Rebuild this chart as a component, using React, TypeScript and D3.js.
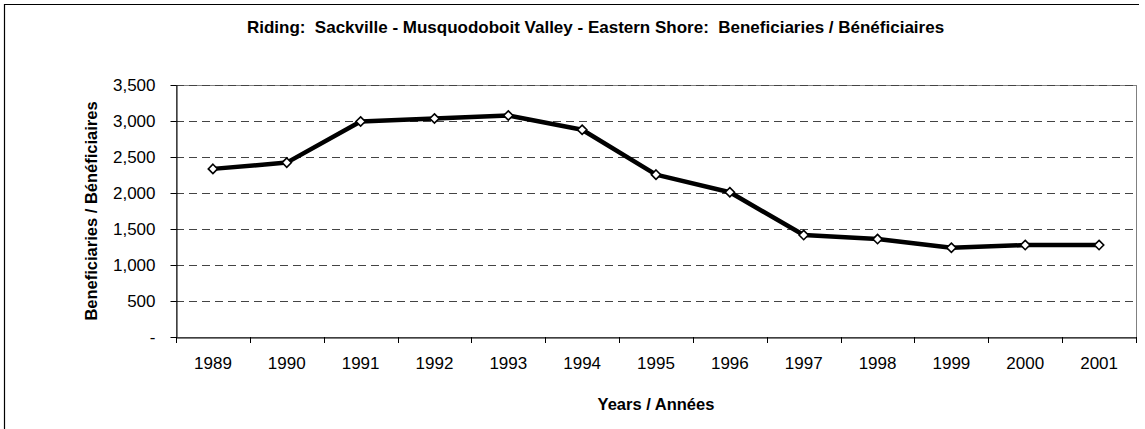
import React, { useEffect, useRef } from "react";
import * as d3 from "d3";

const years = ["1989", "1990", "1991", "1992", "1993", "1994", "1995", "1996", "1997", "1998", "1999", "2000", "2001"];
const beneficiaries = [2335, 2422, 2993, 3035, 3077, 2878, 2255, 2010, 1416, 1360, 1239, 1277, 1277];
const yTicks = [0, 500, 1000, 1500, 2000, 2500, 3000, 3500];

const title = "Riding:  Sackville - Musquodoboit Valley - Eastern Shore:  Beneficiaries / Bénéficiaires";
const xTitle = "Years / Années";
const yTitle = "Beneficiaries / Bénéficiaires";

const W = 1145, H = 429;
const left = 176, right = 1136, top = 85, bottom = 337;
const narrow = "'Liberation Sans Narrow', 'Arial Narrow', 'Liberation Sans', Arial, sans-serif";
const regular = "'Liberation Sans', Arial, sans-serif";

export default function App() {
  const ref = useRef<SVGSVGElement>(null);

  useEffect(() => {
    const svg = d3.select(ref.current);
    svg.selectAll("*").remove();

    // outer frame (only top and left edges are inside the picture)
    svg.append("path")
      .attr("d", `M4.5,${H + 5} V4.5 H1139`)
      .attr("fill", "none")
      .attr("stroke", "#000")
      .attr("stroke-width", 1.2);

    const x = d3.scaleBand().domain(years).range([left, right]);
    const y = d3.scaleLinear().domain([0, 3500]).range([bottom, top]);

    // plot frame
    svg.append("rect")
      .attr("x", left + 0.5).attr("y", top + 0.5)
      .attr("width", right - left).attr("height", bottom - top)
      .attr("fill", "none").attr("stroke", "#808080");

    // gridlines
    svg.append("g").selectAll("line")
      .data(yTicks.filter(d => d > 0))
      .join("line")
      .attr("x1", left).attr("x2", right)
      .attr("y1", d => Math.round(y(d)) + 0.5)
      .attr("y2", d => Math.round(y(d)) + 0.5)
      .attr("stroke", "#444")
      .attr("stroke-dasharray", "8,5");

    // y axis
    const yAxis = svg.append("g")
      .attr("transform", `translate(${left + 0.5},0)`)
      .call(d3.axisLeft(y).tickValues(yTicks).tickSize(6).tickSizeOuter(0)
        .tickFormat(d => (+d === 0 ? "-" : d3.format(",")(+d))));
    yAxis.select(".domain").attr("stroke", "#000");
    yAxis.selectAll(".tick text")
      .attr("x", -21)
      .style("font-family", regular)
      .style("font-size", "17px")
      .attr("fill", "#000");
    yAxis.selectAll(".tick line").attr("stroke", "#000");
    yAxis.selectAll(".tick").attr("transform", d => `translate(0,${Math.round(y(d as number)) + 0.5})`);

    // x axis
    const xAxis = svg.append("g")
      .attr("transform", `translate(0,${bottom + 0.5})`)
      .call(d3.axisBottom(x).tickSize(0).tickSizeOuter(0));
    xAxis.select(".domain").attr("stroke", "#000");
    xAxis.selectAll(".tick text")
      .attr("y", 19)
      .style("font-family", regular)
      .style("font-size", "17px")
      .attr("fill", "#000");

    // category boundary ticks
    svg.append("g").selectAll("line")
      .data(years.concat(["end"]))
      .join("line")
      .attr("x1", (d, i) => Math.round(left + i * x.step()) + 0.5)
      .attr("x2", (d, i) => Math.round(left + i * x.step()) + 0.5)
      .attr("y1", bottom)
      .attr("y2", bottom + 6)
      .attr("stroke", "#000");

    // line
    const cx = (d: string) => (x(d) as number) + x.bandwidth() / 2;
    const line = d3.line<number>()
      .x((d, i) => cx(years[i]))
      .y(d => y(d));
    svg.append("path")
      .datum(beneficiaries)
      .attr("d", line)
      .attr("fill", "none")
      .attr("stroke", "#000")
      .attr("stroke-width", 4.5)
      .attr("stroke-linejoin", "round");

    // diamond markers
    const diamond = d3.symbol().type(d3.symbolDiamond2).size(55);
    svg.append("g").selectAll("path")
      .data(beneficiaries)
      .join("path")
      .attr("d", diamond)
      .attr("transform", (d, i) => `translate(${cx(years[i])},${y(d)})`)
      .attr("fill", "#fff")
      .attr("stroke", "#000")
      .attr("stroke-width", 1.6);

    // titles
    svg.append("text")
      .attr("x", 595.5)
      .attr("y", 33)
      .attr("text-anchor", "middle")
      .style("white-space", "pre")
      .style("font-family", narrow)
      .style("font-weight", "bold")
      .style("font-size", "17px")
      .text(title);

    svg.append("text")
      .attr("x", (left + right) / 2)
      .attr("y", 410)
      .attr("text-anchor", "middle")
      .style("font-family", narrow)
      .style("font-weight", "bold")
      .style("font-size", "16.5px")
      .text(xTitle);

    svg.append("text")
      .attr("transform", `translate(97,${(top + bottom) / 2}) rotate(-90)`)
      .attr("text-anchor", "middle")
      .style("font-family", narrow)
      .style("font-weight", "bold")
      .style("font-size", "16.5px")
      .text(yTitle);
  }, []);

  return (
    <svg ref={ref} width={W} height={H}
      style={{ position: "absolute", left: 0, top: 0, background: "#fff" }} />
  );
}
